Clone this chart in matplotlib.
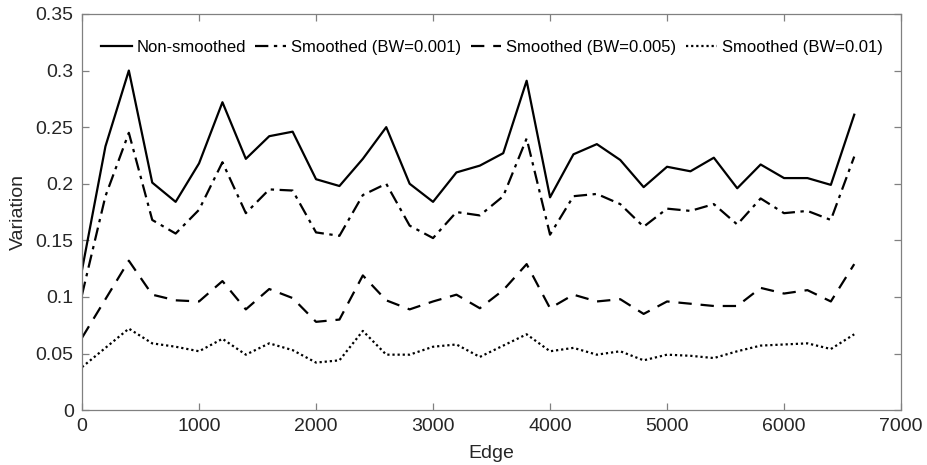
import matplotlib
matplotlib.use("Agg")
import matplotlib.pyplot as plt
import numpy as np

# edge index (every 200 edges)
edges = np.arange(0, 6601, 200)

non_smoothed = [0.124, 0.233, 0.300, 0.201, 0.184, 0.218, 0.272, 0.222, 0.242, 0.246,
                0.204, 0.198, 0.222, 0.250, 0.200, 0.184, 0.210, 0.216, 0.227, 0.291,
                0.188, 0.226, 0.235, 0.221, 0.197, 0.215, 0.211, 0.223, 0.196, 0.217,
                0.205, 0.205, 0.199, 0.261]
bw_0001 = [0.102, 0.189, 0.245, 0.168, 0.156, 0.177, 0.219, 0.174, 0.195, 0.194,
           0.157, 0.154, 0.190, 0.200, 0.163, 0.152, 0.175, 0.172, 0.189, 0.240,
           0.155, 0.189, 0.191, 0.182, 0.162, 0.178, 0.176, 0.182, 0.164, 0.187,
           0.174, 0.176, 0.168, 0.224]
bw_0005 = [0.064, 0.098, 0.132, 0.102, 0.097, 0.096, 0.114, 0.089, 0.107, 0.099,
           0.078, 0.080, 0.119, 0.097, 0.089, 0.096, 0.102, 0.090, 0.106, 0.129,
           0.090, 0.102, 0.096, 0.098, 0.085, 0.096, 0.094, 0.092, 0.092, 0.108,
           0.103, 0.106, 0.096, 0.129]
bw_001 = [0.038, 0.055, 0.072, 0.059, 0.056, 0.052, 0.063, 0.049, 0.059, 0.053,
          0.042, 0.044, 0.070, 0.049, 0.049, 0.056, 0.058, 0.047, 0.057, 0.067,
          0.052, 0.055, 0.049, 0.052, 0.044, 0.049, 0.048, 0.046, 0.052, 0.057,
          0.058, 0.059, 0.054, 0.067]

plt.rcParams['font.family'] = ['Liberation Sans', 'DejaVu Sans']

fig = plt.figure(figsize=(9.27, 4.65), dpi=100)
ax = fig.add_axes([0.0885, 0.118, 0.8835, 0.852])

lw = 1.6
ax.plot(edges, non_smoothed, color='black', lw=lw, linestyle='-', label='Non-smoothed')
ax.plot(edges, bw_0001, color='black', lw=lw, linestyle=(0, (6, 2.5, 1.5, 2.5)), label='Smoothed (BW=0.001)')
ax.plot(edges, bw_0005, color='black', lw=lw, linestyle=(0, (6, 4)), label='Smoothed (BW=0.005)')
ax.plot(edges, bw_001, color='black', lw=lw, linestyle=(0, (1, 1.3)), label='Smoothed (BW=0.01)')

ax.set_xlim(0, 7000)
ax.set_ylim(0, 0.35)
ax.set_xticks(np.arange(0, 7001, 1000))
ax.set_yticks(np.arange(0, 0.351, 0.05))
ax.set_yticklabels(['0', '0.05', '0.1', '0.15', '0.2', '0.25', '0.3', '0.35'])

for s in ax.spines.values():
    s.set_color('#808080')
    s.set_linewidth(0.9)
ax.tick_params(direction='in', top=True, right=True, length=5, width=0.9,
               color='#808080', labelsize=14, labelcolor='#262626', pad=6)

ax.set_xlabel('Edge', fontsize=14, color='#262626', labelpad=7)
ax.set_ylabel('Variation', fontsize=14, color='#262626', labelpad=6)

ax.legend(loc='upper left', bbox_to_anchor=(0.015, 0.952), ncol=4, frameon=False,
          fontsize=12, handlelength=1.85, handletextpad=0.3, columnspacing=0.55,
          borderaxespad=0)

fig.savefig('out.png', dpi=100)
